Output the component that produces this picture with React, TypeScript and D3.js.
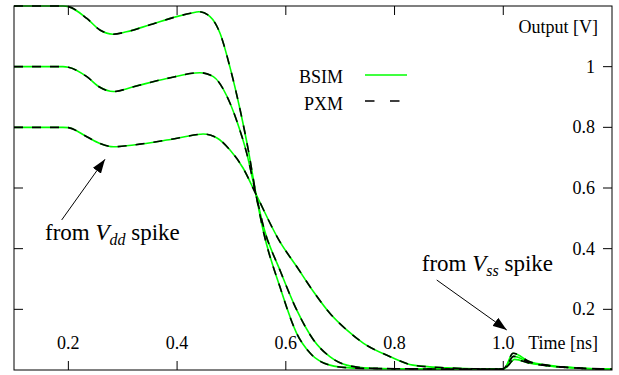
import React from "react";
import * as d3 from "d3";

// ---- data (time in ns, output in V) ----
const timeHigh = [0.10, 0.19, 0.20, 0.234, 0.258, 0.282, 0.307, 0.35, 0.399, 0.425, 0.44, 0.4606, 0.479, 0.497, 0.516, 0.531, 0.545, 0.559, 0.589, 0.620, 0.645, 0.681, 0.718, 0.76, 0.82, 0.90, 0.999, 1.004, 1.018, 1.049, 1.08, 1.141, 1.2];
const voltHigh = [1.2, 1.2, 1.198, 1.159, 1.121, 1.107, 1.115, 1.138, 1.165, 1.176, 1.181, 1.165, 1.110, 1.0, 0.857, 0.725, 0.58, 0.455, 0.275, 0.121, 0.055, 0.016, 0.007, 0.005, 0.004, 0.003, 0.003, 0.010, 0.055, 0.027, 0.016, 0.006, 0.003];

const timeMid = [0.10, 0.19, 0.20, 0.234, 0.258, 0.283, 0.32, 0.381, 0.442, 0.4667, 0.491, 0.51, 0.528, 0.545, 0.559, 0.589, 0.620, 0.651, 0.681, 0.712, 0.755, 0.82, 0.9, 0.999, 1.004, 1.019, 1.049, 1.08, 1.141, 1.2];
const voltMid = [1.0, 1.0, 0.998, 0.967, 0.932, 0.918, 0.934, 0.961, 0.980, 0.967, 0.905, 0.82, 0.715, 0.58, 0.472, 0.33, 0.198, 0.099, 0.044, 0.016, 0.006, 0.004, 0.003, 0.003, 0.009, 0.045, 0.025, 0.015, 0.006, 0.003];

const timeLow = [0.10, 0.19, 0.20, 0.234, 0.258, 0.283, 0.32, 0.381, 0.442, 0.4477, 0.4734, 0.4974, 0.5213, 0.545, 0.589, 0.620, 0.651, 0.681, 0.712, 0.743, 0.792, 0.834, 0.896, 0.95, 0.999, 1.005, 1.021, 1.049, 1.08, 1.141, 1.2];
const voltLow = [0.8, 0.8, 0.799, 0.769, 0.747, 0.736, 0.742, 0.758, 0.777, 0.778, 0.765, 0.725, 0.666, 0.58, 0.423, 0.341, 0.258, 0.187, 0.132, 0.088, 0.044, 0.016, 0.007, 0.004, 0.003, 0.008, 0.035, 0.022, 0.014, 0.006, 0.003];

// BSIM and PXM coincide within drawing resolution
const bsimSeries = [
  { t: timeHigh, v: voltHigh },
  { t: timeMid, v: voltMid },
  { t: timeLow, v: voltLow },
];
const pxmSeries = bsimSeries;

const xTicks = [0.2, 0.4, 0.6, 0.8, 1.0];
const xTickLabels = ["0.2", "0.4", "0.6", "0.8", "1.0"];
const yTicks = [0.2, 0.4, 0.6, 0.8, 1.0];
const yTickLabels = ["0.2", "0.4", "0.6", "0.8", "1"];

const W = 619;
const H = 375;
const L = 14, R = 612, T = 6, B = 370;

const FONT = '"Liberation Serif"';

export default function App() {
  const x = d3.scaleLinear().domain([0.1, 1.2]).range([L, R]);
  const y = d3.scaleLinear().domain([0, 1.2]).range([B, T]);
  const line = d3
    .line<[number, number]>()
    .x((d) => x(d[0]))
    .y((d) => y(d[1]))
    .curve(d3.curveMonotoneX);
  const pts = (s: { t: number[]; v: number[] }) =>
    s.t.map((t, i) => [t, s.v[i]] as [number, number]);

  const tick = 9;
  const ts = { fontFamily: FONT };

  // annotation anchors in data space
  const vddTail: [number, number] = [0.1877, 0.4946];
  const vddTip: [number, number] = [0.2674, 0.6947];
  const vssTail: [number, number] = [0.8776, 0.2967];
  const vssTip: [number, number] = [1.0064, 0.1319];

  return (
    <svg
      width={W}
      height={H}
      style={{ position: "absolute", left: 0, top: 0, background: "#fff" }}
    >
      <defs>
        <marker
          id="arr"
          viewBox="0 0 14 10"
          refX="14"
          refY="5"
          markerWidth="14"
          markerHeight="10"
          markerUnits="userSpaceOnUse"
          orient="auto"
        >
          <path d="M0,0 L14,5 L0,10 Z" fill="#000" />
        </marker>
      </defs>
      <rect x={0} y={0} width={W} height={H} fill="#fff" />

      {/* curves */}
      {bsimSeries.map((s, i) => (
        <path key={"b" + i} d={line(pts(s)) || ""} fill="none" stroke="#00ff00" strokeWidth={1.6} />
      ))}
      {pxmSeries.map((s, i) => (
        <path
          key={"p" + i}
          d={line(pts(s)) || ""}
          fill="none"
          stroke="#000"
          strokeWidth={1.6}
          strokeDasharray="9,9"
        />
      ))}

      {/* frame */}
      <rect x={L} y={T} width={R - L} height={B - T} fill="none" stroke="#000" strokeWidth={1} />

      {/* x ticks */}
      {xTicks.map((t, i) => (
        <g key={"xt" + i}>
          <line x1={x(t)} x2={x(t)} y1={B} y2={B - tick} stroke="#000" />
          <line x1={x(t)} x2={x(t)} y1={T} y2={T + tick} stroke="#000" />
          <text style={ts} x={x(t)} y={349} fontSize={18} textAnchor="middle">
            {xTickLabels[i]}
          </text>
        </g>
      ))}
      <text style={ts} x={598} y={349} fontSize={18} textAnchor="end">
        Time [ns]
      </text>

      {/* y ticks */}
      {yTicks.map((v, i) => (
        <g key={"yt" + i}>
          <line x1={L} x2={L + tick} y1={y(v)} y2={y(v)} stroke="#000" />
          <line x1={R} x2={R - tick} y1={y(v)} y2={y(v)} stroke="#000" />
          <text style={ts} x={595} y={y(v) + 6} fontSize={18} textAnchor="end">
            {yTickLabels[i]}
          </text>
        </g>
      ))}
      <text style={ts} x={598} y={33} fontSize={18} textAnchor="end">
        Output [V]
      </text>

      {/* legend */}
      <text style={ts} x={343} y={83} fontSize={18} textAnchor="end">BSIM</text>
      <line x1={365} x2={407} y1={75} y2={75} stroke="#00ff00" strokeWidth={1.6} />
      <text style={ts} x={343} y={110} fontSize={18} textAnchor="end">PXM</text>
      <line x1={365} x2={407} y1={101} y2={101} stroke="#000" strokeWidth={1.6} strokeDasharray="9.5,15.5" />

      {/* annotations */}
      <line
        x1={x(vddTail[0])}
        y1={y(vddTail[1])}
        x2={x(vddTip[0])}
        y2={y(vddTip[1])}
        stroke="#000"
        strokeWidth={1}
        markerEnd="url(#arr)"
      />
      <text style={ts} x={x(0.157)} y={y(0.4286)} fontSize={23}>
        <tspan>from </tspan>
        <tspan fontStyle="italic">V</tspan>
        <tspan fontStyle="italic" fontSize={16} dy={5}>dd</tspan>
        <tspan dy={-5}> spike</tspan>
      </text>
      <line
        x1={x(vssTail[0])}
        y1={y(vssTail[1])}
        x2={x(vssTip[0])}
        y2={y(vssTip[1])}
        stroke="#000"
        strokeWidth={1}
        markerEnd="url(#arr)"
      />
      <text style={ts} x={x(0.85)} y={y(0.3264)} fontSize={23}>
        <tspan>from </tspan>
        <tspan fontStyle="italic">V</tspan>
        <tspan fontStyle="italic" fontSize={16} dy={5}>ss</tspan>
        <tspan dy={-5}> spike</tspan>
      </text>
    </svg>
  );
}
